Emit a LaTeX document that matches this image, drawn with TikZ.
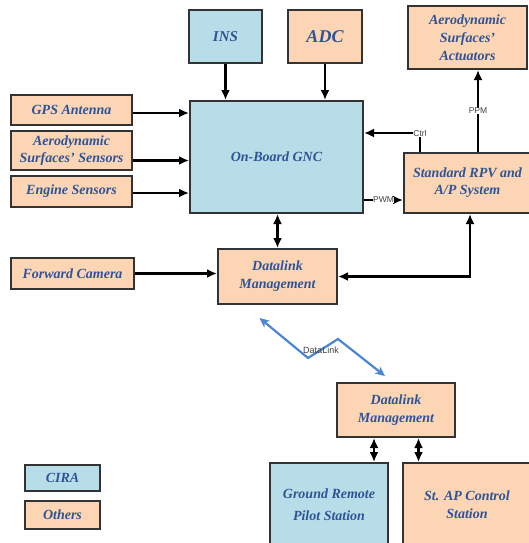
\documentclass[tikz,border=0pt]{standalone}
\usepackage{fontspec}
\setmainfont{Liberation Serif}
\setsansfont{Liberation Sans}
\usetikzlibrary{arrows.meta,calc}
\definecolor{ciraBlue}{HTML}{B7DEE8}
\definecolor{otherPeach}{HTML}{FCD5B4}
\definecolor{txtBlue}{HTML}{2F5496}
\definecolor{linkBlue}{HTML}{4A86D4}
\tikzset{
    >={Latex[length=10pt,width=9pt]}, % filled black heads
    blk/.style={draw=black!80, line width=2pt, align=center, inner sep=0pt,
        text=txtBlue, font=\bfseries\itshape\fontsize{14}{17}\selectfont},
    cira/.style={blk, fill=ciraBlue},
    others/.style={blk, fill=otherPeach},
    wire/.style={line width=2.2pt, draw=black},
    sig/.style={font=\sffamily\fontsize{8.5}{9}\selectfont, text=black!75,
        fill=white, inner sep=0.5pt},
    link/.style={line width=2.2pt, draw=linkBlue, >={Stealth[length=10pt,width=9pt]}}
}
\begin{document}
\begin{tikzpicture}[x=1pt, y=-1pt]
    \useasboundingbox[fill=white] (0,0) rectangle (528,543);

    % =========================================================================
    % ON-BOARD SIDE
    % =========================================================================
    \node[cira,   minimum width=73pt,  minimum height=53pt,
          font=\bfseries\itshape\fontsize{15}{17}\selectfont] (ins) at (225.5,36.5) {INS};
    \node[others, minimum width=74pt,  minimum height=53pt,
          font=\bfseries\itshape\fontsize{18}{20}\selectfont] (adc) at (325,36.5) {ADC};
    \node[others, minimum width=119pt, minimum height=63pt,
          font=\bfseries\itshape\fontsize{14}{18}\selectfont] (act) at (467.5,37.5)
          {Aerodynamic\\Surfaces'\\Actuators};
    \node[cira,   minimum width=173pt, minimum height=112pt] (gnc) at (276.5,157) {On-Board GNC};

    % sensors on the left
    \node[others, minimum width=121pt, minimum height=30pt] (gps) at (71.5,110) {GPS Antenna};
    \node[others, minimum width=121pt, minimum height=39pt] (aes) at (71.5,150.5)
          {Aerodynamic\\Surfaces' Sensors};
    \node[others, minimum width=121pt, minimum height=31pt] (eng) at (71.5,191.5) {Engine Sensors};

    \node[others, minimum width=127pt, minimum height=60pt] (rpv) at (467.5,183)
          {Standard RPV and\\A/P System};
    \node[others, minimum width=119pt, minimum height=55pt,
          font=\bfseries\itshape\fontsize{14}{18}\selectfont] (dl1) at (277.5,276.5)
          {Datalink\\Management};
    \node[others, minimum width=123pt, minimum height=31pt] (cam) at (72.5,273.5) {Forward Camera};

    % =========================================================================
    % GROUND SIDE
    % =========================================================================
    \node[others, minimum width=118pt, minimum height=54pt,
          font=\bfseries\itshape\fontsize{14}{18}\selectfont] (dl2) at (396,410)
          {Datalink\\Management};
    \node[cira,   minimum width=118pt, minimum height=84pt,
          font=\bfseries\itshape\fontsize{14}{22}\selectfont] (grp) at (329,505)
          {Ground Remote\\Pilot Station};
    \node[others, minimum width=128pt, minimum height=84pt,
          font=\bfseries\itshape\fontsize{14}{18}\selectfont] (sap) at (467,505)
          {St. AP Control\\Station};

    % legend
    \node[cira,   minimum width=75pt, minimum height=26pt] (legc) at (62.5,478) {CIRA};
    \node[others, minimum width=75pt, minimum height=28pt] (lego) at (62.5,515) {Others};

    % =========================================================================
    % CONNECTORS
    % =========================================================================
    \draw[wire, ->] (ins) -- (ins |- gnc.north);
    \draw[wire, ->] (adc) -- (adc |- gnc.north);
    \draw[wire, ->] ([yshift=-3pt]gps.east) -- ([yshift=-3pt]gps.east -| gnc.west);
    \draw[wire, ->] ([yshift=-10pt]aes.east) -- ([yshift=-10pt]aes.east -| gnc.west);
    \draw[wire, ->] ([yshift=-1.5pt]eng.east) -- ([yshift=-1.5pt]eng.east -| gnc.west);

    \draw[wire, ->] ([xshift=17pt]rpv.north west) |- ([yshift=24pt]gnc.east)
        node[sig, pos=0.5] {Ctrl};
    \draw[wire, ->] ([yshift=-43pt]gnc.east) -- ([yshift=-43pt]gnc.east -| rpv.west)
        node[sig, midway] {PWM};
    \draw[wire, ->] ([xshift=10.5pt]rpv.north) -- ([xshift=10.5pt]rpv.north |- act.south)
        node[sig, midway] {PPM};

    \draw[wire, <->] (dl1.north) -- (dl1.north |- gnc.south);
    \draw[wire, ->] (cam) -- (cam -| dl1.west);
    \draw[wire, <->] (dl1.east) -| ([xshift=2.5pt]rpv.south);

    % radio link between the two datalinks
    \coordinate (lnkA) at ([shift={(-18,13)}]dl1.south);
    \coordinate (lnkB) at (308,358);
    \coordinate (lnkC) at (338,339);
    \coordinate (lnkD) at ([shift={(-11,-6)}]dl2.north);
    \draw[link, <->] (lnkA) -- (lnkB) -- (lnkC) -- (lnkD);
    \node[sig, fill=none, font=\sffamily\fontsize{9}{10}\selectfont] (lnklbl) at (321,350) {DataLink};

    \draw[wire, <->] ([xshift=45pt]grp.north) -- ([xshift=45pt]grp.north |- dl2.south);
    \draw[wire, <->] ([xshift=-48.5pt]sap.north) -- ([xshift=-48.5pt]sap.north |- dl2.south);
\end{tikzpicture}
\end{document}
